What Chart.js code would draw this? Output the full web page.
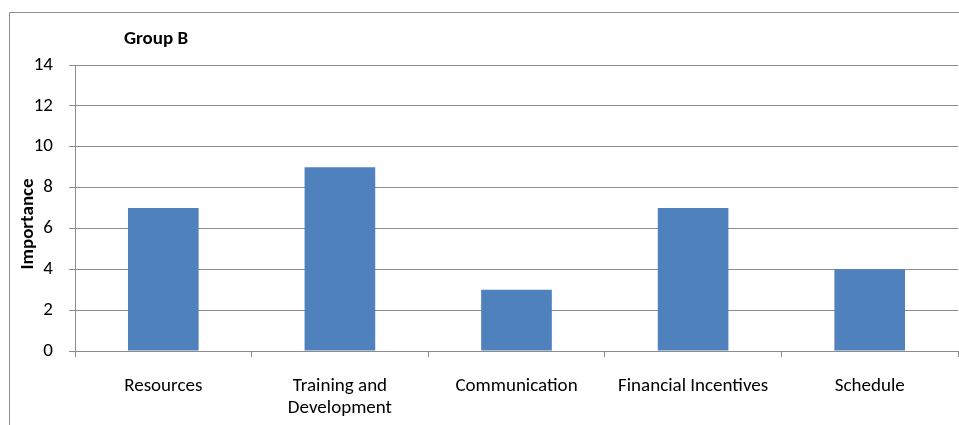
<!DOCTYPE html>
<html>
<head>
<meta charset="utf-8">
<script src="https://cdn.jsdelivr.net/npm/chart.js@4/dist/chart.umd.min.js"></script>
<style>
html,body{margin:0;padding:0;background:#fff;}
#wrap{width:959px;height:425px;position:relative;}
</style>
</head>
<body>
<div id="wrap"><canvas id="c" width="959" height="425"></canvas></div>
<script>
const categories = [["Resources"], ["Training and", "Development"], ["Communication"], ["Financial Incentives"], ["Schedule"]];
const importanceValues = [7, 9, 3, 7, 4];
const yTicks = [0, 2, 4, 6, 8, 10, 12, 14];
const chartTitle = "Group B";
const yTitle = "Importance";

const FONT = "Carlito, Calibri, 'Open Sans', sans-serif";
const GRID = '#8c8c8c';

const framePlugin = {
  id: 'frame',
  beforeDraw(chart) {
    const ctx = chart.ctx;
    ctx.save();
    ctx.strokeStyle = GRID;
    ctx.lineWidth = 1;
    ctx.beginPath();
    ctx.moveTo(9.5, 425);
    ctx.lineTo(9.5, 12.5);
    ctx.lineTo(959, 12.5);
    ctx.stroke();
    ctx.fillStyle = '#000';
    ctx.font = "bold 19px " + FONT;
    ctx.textAlign = 'center';
    ctx.textBaseline = 'middle';
    ctx.fillText(chartTitle, 156, 39);
    ctx.translate(28, 224);
    ctx.rotate(-Math.PI / 2);
    ctx.fillText(yTitle, 0, 0);
    ctx.restore();
  }
};

new Chart(document.getElementById('c'), {
  type: 'bar',
  data: {
    labels: categories,
    datasets: [{
      data: importanceValues,
      backgroundColor: '#4F81BD',
      borderWidth: 0,
      barPercentage: 0.4,
      categoryPercentage: 1.0
    }]
  },
  options: {
    responsive: false,
    animation: false,
    devicePixelRatio: 1,
    layout: { padding: { left: 10, top: 65, right: 1, bottom: 0 } },
    plugins: { legend: { display: false }, tooltip: { enabled: false } },
    scales: {
      x: {
        grid: { display: true, drawOnChartArea: false, drawTicks: true, tickLength: 6, color: GRID, offset: true },
        border: { color: GRID, width: 1 },
        ticks: { color: '#000', font: { family: FONT, size: 19, lineHeight: 1.15 }, padding: 18, maxRotation: 0, autoSkip: false },
        afterFit(s) { s.height = 74; }
      },
      y: {
        min: 0, max: 14,
        afterBuildTicks(s) { s.ticks = yTicks.map(v => ({ value: v })); },
        grid: { color: GRID, tickLength: 6 },
        border: { color: GRID, width: 1 },
        ticks: { color: '#000', font: { family: FONT, size: 19 }, padding: 16 },
        afterFit(s) { s.width = 65; }
      }
    }
  },
  plugins: [framePlugin]
});
</script>
</body>
</html>
